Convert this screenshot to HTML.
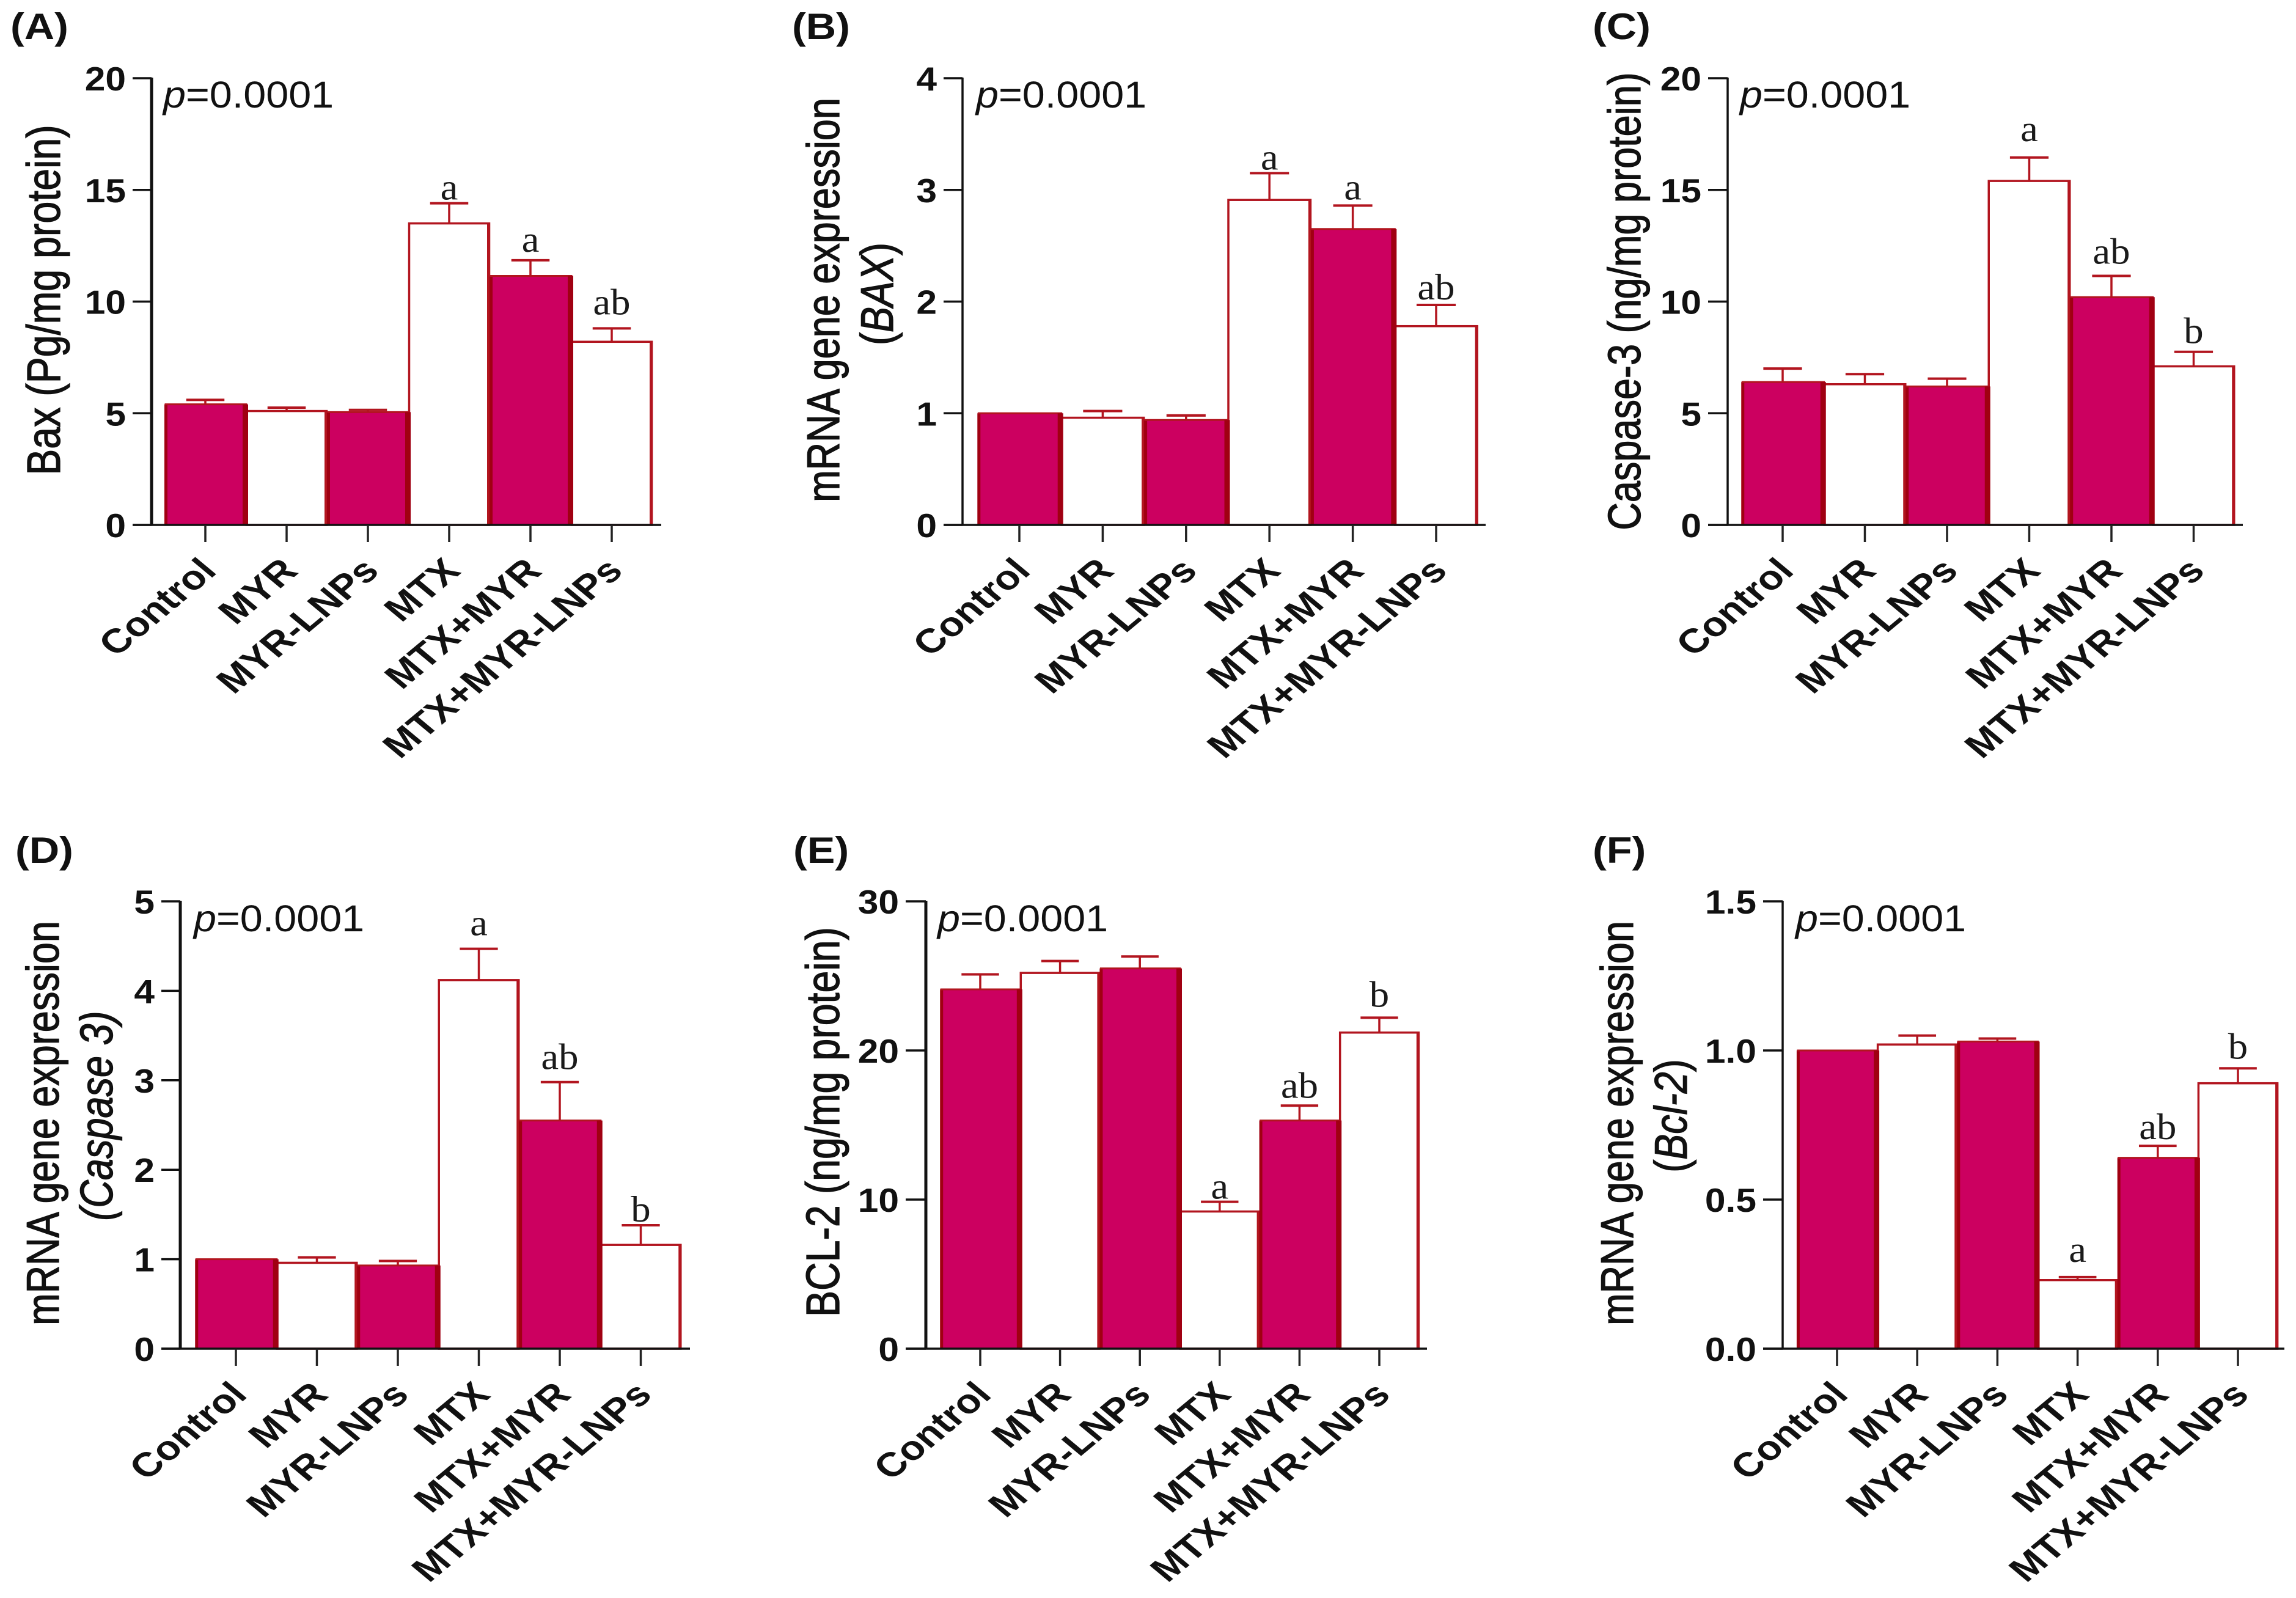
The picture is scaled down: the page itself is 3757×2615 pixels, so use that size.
<!DOCTYPE html>
<html lang="en">
<head>
<meta charset="utf-8">
<title>Bax, Caspase-3 and BCL-2 panels</title>
<style>
html,body{margin:0;padding:0;background:#fff}
svg{display:block}
text{font-family:"Liberation Sans",Arial,sans-serif;fill:#111}
.sig{font-family:"Liberation Serif","Times New Roman",serif;fill:#1a1a1a}
</style>
</head>
<body>
<svg id="figure" xmlns="http://www.w3.org/2000/svg" width="3757" height="2615" viewBox="0 0 3757 2615"></svg>
<script>
const categories = ['Control', 'MYR', 'MYR-LNPs', 'MTX', 'MTX+MYR', 'MTX+MYR-LNPs'];

const baxValues = [5.4, 5.1, 5.05, 13.5, 11.15, 8.2];
const baxErrors = [0.2, 0.15, 0.1, 0.9, 0.7, 0.6];
const baxSig = ['', '', '', 'a', 'a', 'ab'];
const baxTicks = ['0', '5', '10', '15', '20'];

const baxMrnaValues = [1.0, 0.96, 0.94, 2.91, 2.65, 1.78];
const baxMrnaErrors = [0, 0.06, 0.04, 0.24, 0.21, 0.19];
const baxMrnaSig = ['', '', '', 'a', 'a', 'ab'];
const baxMrnaTicks = ['0', '1', '2', '3', '4'];

const caspaseValues = [6.4, 6.3, 6.2, 15.4, 10.2, 7.1];
const caspaseErrors = [0.6, 0.45, 0.35, 1.05, 0.95, 0.65];
const caspaseSig = ['', '', '', 'a', 'ab', 'b'];
const caspaseTicks = ['0', '5', '10', '15', '20'];

const caspaseMrnaValues = [1.0, 0.96, 0.93, 4.12, 2.55, 1.16];
const caspaseMrnaErrors = [0, 0.06, 0.05, 0.35, 0.43, 0.22];
const caspaseMrnaSig = ['', '', '', 'a', 'ab', 'b'];
const caspaseMrnaTicks = ['0', '1', '2', '3', '4', '5'];

const bcl2Values = [24.1, 25.2, 25.5, 9.2, 15.3, 21.2];
const bcl2Errors = [1.0, 0.8, 0.8, 0.65, 1.0, 1.0];
const bcl2Sig = ['', '', '', 'a', 'ab', 'b'];
const bcl2Ticks = ['0', '10', '20', '30'];

const bcl2MrnaValues = [1.0, 1.02, 1.03, 0.23, 0.64, 0.89];
const bcl2MrnaErrors = [0, 0.03, 0.01, 0.01, 0.04, 0.05];
const bcl2MrnaSig = ['', '', '', 'a', 'ab', 'b'];
const bcl2MrnaTicks = ['0.0', '0.5', '1.0', '1.5'];

const NS = 'http://www.w3.org/2000/svg';
const STRETCH = 1.2;
const FILL = '#cc0060';
const DARK = '#a00012';
const RED = '#b2151f';
const root = document.getElementById('figure');

const panels = [
  { id: 'a', tag: '(A)', tagX: 17, tagY: 64, axisX: 248, tickX0: 217, endX: 1082, firstX: 336, step: 133, top: 128, base: 859, axisW: 5,
    pX: 267, pY: 176, values: baxValues, errors: baxErrors, sig: baxSig, ticks: baxTicks, gaps: [0, 0, 0, 6, 14, 23],
    titles: [{ x: 98, y: 491, size: 64.5, parts: [['Bax (Pg/mg protein)', false]] }] },
  { id: 'b', tag: '(B)', tagX: 1296, tagY: 64, axisX: 1575, tickX0: 1544, endX: 2431, firstX: 1668, step: 136.4, top: 128, base: 859, axisW: 3.5,
    pX: 1597, pY: 176, values: baxMrnaValues, errors: baxMrnaErrors, sig: baxMrnaSig, ticks: baxMrnaTicks, gaps: [0, 0, 0, 6, 10, 9],
    titles: [{ x: 1373, y: 491, size: 63, parts: [['mRNA gene expression', false]] },
             { x: 1461, y: 481, size: 63, parts: [['(', false], ['BAX', true], [')', false]] }] },
  { id: 'c', tag: '(C)', tagX: 2606, tagY: 64, axisX: 2827, tickX0: 2795, endX: 3670, firstX: 2917, step: 134.5, top: 128, base: 859, axisW: 3.5,
    pX: 2847, pY: 176, values: caspaseValues, errors: caspaseErrors, sig: caspaseSig, ticks: caspaseTicks, gaps: [0, 0, 0, 27, 20, 14],
    titles: [{ x: 2684, y: 493, size: 63, parts: [['Caspase-3 (ng/mg protein)', false]] }] },
  { id: 'd', tag: '(D)', tagX: 25, tagY: 1412, axisX: 295, tickX0: 264, endX: 1129, firstX: 386, step: 132.5, top: 1475, base: 2207, axisW: 5,
    pX: 317, pY: 1524, values: caspaseMrnaValues, errors: caspaseMrnaErrors, sig: caspaseMrnaSig, ticks: caspaseMrnaTicks, gaps: [0, 0, 0, 22, 21, 6],
    titles: [{ x: 96, y: 1838, size: 63, parts: [['mRNA gene expression', false]] },
             { x: 184, y: 1826, size: 63, parts: [['(Caspase 3)', true]] }] },
  { id: 'e', tag: '(E)', tagX: 1298, tagY: 1412, axisX: 1515, tickX0: 1482, endX: 2335, firstX: 1604, step: 130.6, top: 1475, base: 2207, axisW: 5,
    pX: 1534, pY: 1524, values: bcl2Values, errors: bcl2Errors, sig: bcl2Sig, ticks: bcl2Ticks, gaps: [0, 0, 0, 5, 13, 18],
    titles: [{ x: 1373, y: 1836, size: 64.5, parts: [['BCL-2 (ng/mg protein)', false]] }] },
  { id: 'f', tag: '(F)', tagX: 2606, tagY: 1412, axisX: 2917, tickX0: 2885, endX: 3738, firstX: 3006, step: 131.2, top: 1475, base: 2207, axisW: 3.5,
    pX: 2938, pY: 1524, values: bcl2MrnaValues, errors: bcl2MrnaErrors, sig: bcl2MrnaSig, ticks: bcl2MrnaTicks, gaps: [0, 0, 0, 25, 11, 16],
    titles: [{ x: 2672, y: 1838, size: 63, parts: [['mRNA gene expression', false]] },
             { x: 2760, y: 1826, size: 63, parts: [['(', false], ['Bcl-2', true], [')', false]] }] }
];

function svgEl(tag, attrs, parent) {
  const el = document.createElementNS(NS, tag);
  for (const k in attrs) el.setAttribute(k, attrs[k]);
  parent.appendChild(el);
  return el;
}

function line(x1, y1, x2, y2, color, w, parent) {
  return svgEl('line', { x1: x1, y1: y1, x2: x2, y2: y2, stroke: color, 'stroke-width': w }, parent);
}

panels.forEach(function (p) {
  const group = svgEl('g', {}, root);
  
  

  const yMax = parseFloat(p.ticks[p.ticks.length - 1]);
  const yScale = function (v) { return p.base - (v / yMax) * (p.base - p.top); };
  const xScale = function (i) { return p.firstX + i * p.step; };
  const barW = p.step - 2;

  const order = [1, 3, 5, 0, 2, 4];
  order.forEach(function (i) {
    const cx = xScale(i);
    const top = yScale(p.values[i]);
    const filled = i % 2 === 0;
    const bar = svgEl('g', {}, group);
    
    
    const left = cx - barW / 2;
    const right = cx + barW / 2;

    if (p.errors[i] > 0) {
      const errTop = yScale(p.values[i] + p.errors[i]);
      const err = svgEl('g', {}, bar);
      
      
      line(cx, top, cx, errTop, RED, 3.5, err);
      line(cx - p.step * 0.235, errTop, cx + p.step * 0.235, errTop, RED, 4, err);
    }

    if (filled) {
      svgEl('rect', { x: left, y: top, width: barW + 3, height: p.base - top, fill: FILL }, bar);
      line(left + 1, top, left + 1, p.base, DARK, 5, bar);
      line(left - 1, top, right + 3, top, RED, 3, bar);
      line(right, top, right, p.base, DARK, 9, bar);
    } else {
      svgEl('rect', { x: left, y: top, width: barW, height: p.base - top, fill: '#fff', stroke: RED, 'stroke-width': 3.5 }, bar);
      line(right - 1, top, right - 1, p.base, RED, 5, bar);
    }

    if (p.sig[i]) {
      const labelY = yScale(p.values[i] + p.errors[i]) - p.gaps[i];
      const sig = svgEl('text', { class: 'sig', 'text-anchor': 'middle', 'font-size': 60,
        transform: 'translate(' + cx + ',' + labelY + ') scale(1.08,1)' }, group);
      sig.textContent = p.sig[i];
      
      
    }
  });

  const yAxis = line(p.axisX, p.top - 1, p.axisX, p.base, '#111', p.axisW, group);
  
  
  const xAxis = line(p.tickX0, p.base, p.endX, p.base, '#111', 3.5, group);
  
  

  p.ticks.forEach(function (t) {
    const y = yScale(parseFloat(t));
    const mark = line(p.tickX0, y, p.axisX, y, '#111', 3.5, group);
    
    
    const label = svgEl('text', { 'text-anchor': 'end', 'font-size': 55, 'font-weight': 700,
      transform: 'translate(' + (p.tickX0 - 11) + ',' + (y + 20) + ') scale(1.1,1)' }, group);
    label.textContent = t;
    
    
  });

  categories.forEach(function (c, i) {
    const x = xScale(i);
    const mark = line(x, p.base, x, p.base + 28, '#222', 3.5, group);
    
    
    const label = svgEl('text', { 'text-anchor': 'end', 'font-size': 55.5, 'font-weight': 700,
      transform: 'translate(' + (x + 21) + ',' + (p.base + 78) + ') scale(' + STRETCH + ',1) rotate(-45)' }, group);
    label.textContent = c;
    
    
  });

  p.titles.forEach(function (t) {
    const title = svgEl('text', { 'text-anchor': 'middle', 'font-size': t.size, stroke: '#111', 'stroke-width': 1.1,
      transform: 'translate(' + t.x + ',' + t.y + ') scale(' + STRETCH + ',1) rotate(-90)' }, group);
    
    
    t.parts.forEach(function (part) {
      const span = svgEl('tspan', part[1] ? { 'font-style': 'italic' } : {}, title);
      span.textContent = part[0];
    });
  });

  const pText = svgEl('text', { 'font-size': 61, transform: 'translate(' + p.pX + ',' + p.pY + ') scale(1.09,1)' }, group);
  
  
  const pItalic = svgEl('tspan', { 'font-style': 'italic' }, pText);
  pItalic.textContent = 'p';
  const pRest = svgEl('tspan', {}, pText);
  pRest.textContent = '=0.0001';

  const tagText = svgEl('text', { 'font-size': 60, 'font-weight': 700, transform: 'translate(' + p.tagX + ',' + p.tagY + ') scale(1.14,1)' }, group);
  tagText.textContent = p.tag;
  
  
});
</script>
</body>
</html>
